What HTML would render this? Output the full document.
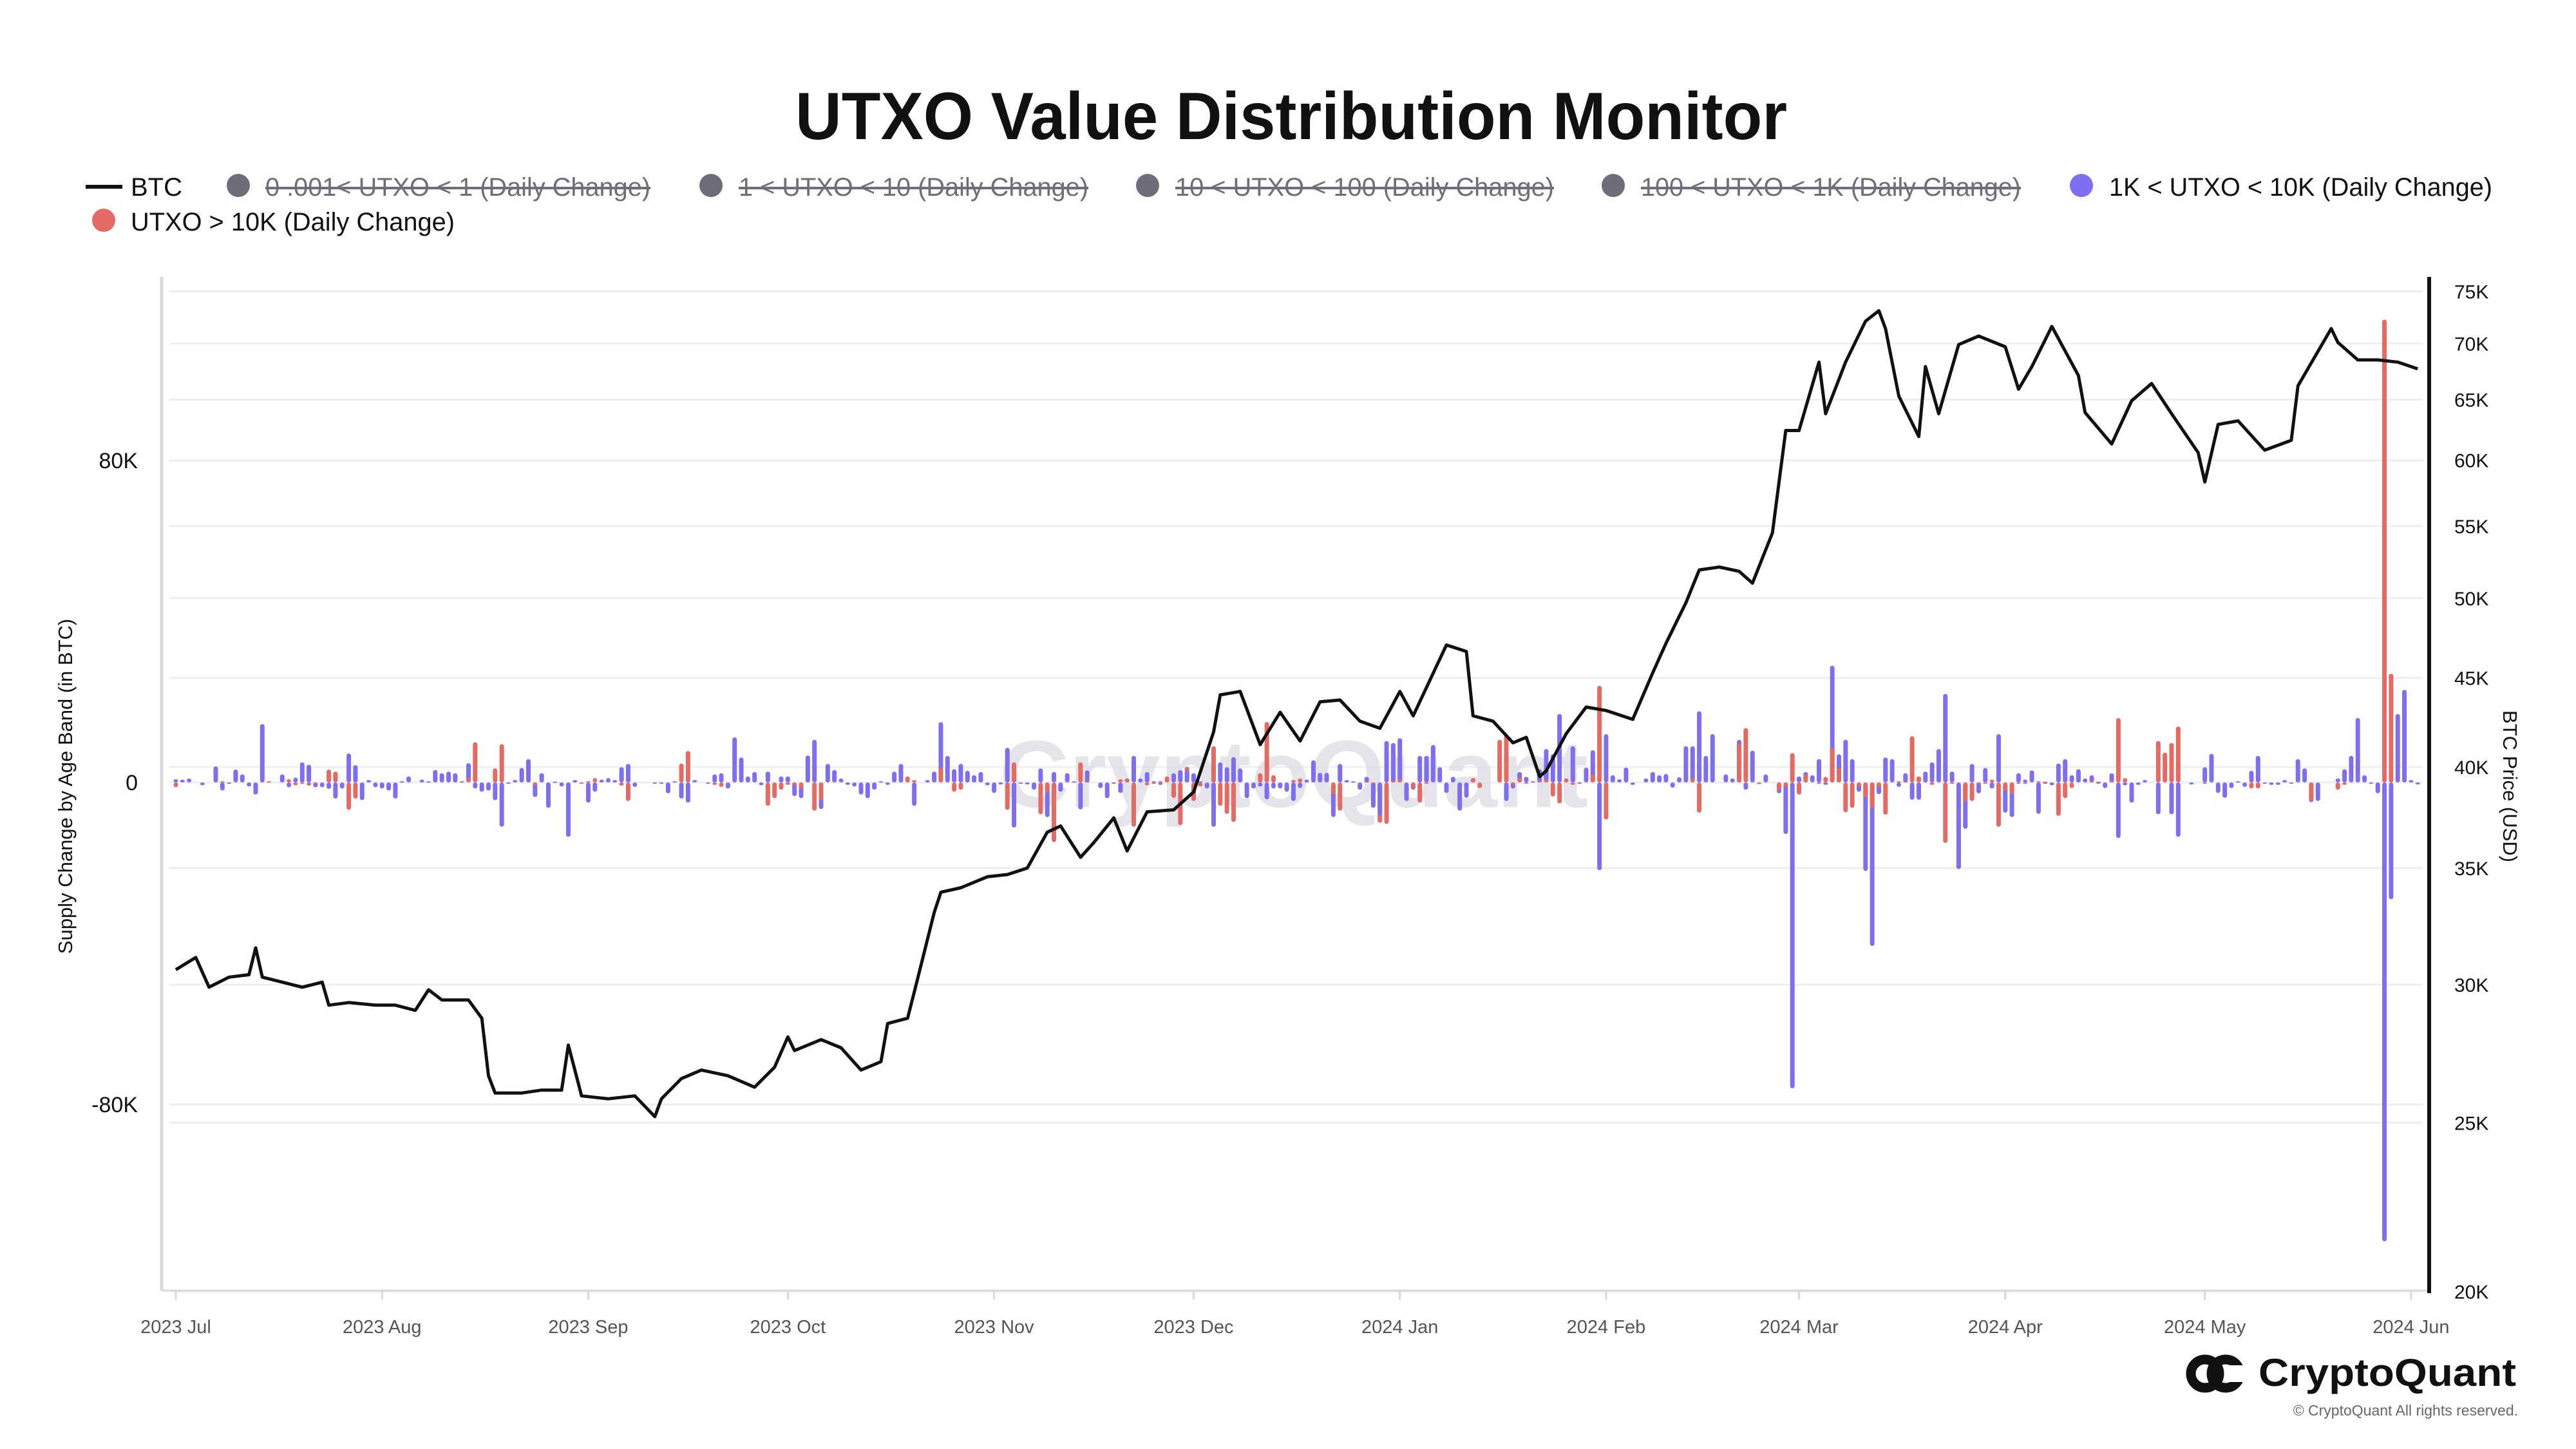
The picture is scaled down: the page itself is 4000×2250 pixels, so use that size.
<!DOCTYPE html>
<html><head><meta charset="utf-8"><style>
html,body{margin:0;padding:0;background:#fff;}
svg{display:block;font-family:"Liberation Sans",Arial,sans-serif;}
</style></head><body>
<svg id="chart" width="4000" height="2250" viewBox="0 0 4000 2250" xmlns="http://www.w3.org/2000/svg">
<rect width="4000" height="2250" fill="#fff"/>
<text x="2005" y="216" font-size="104" font-weight="bold" text-anchor="middle" fill="#111" textLength="1540" lengthAdjust="spacingAndGlyphs">UTXO Value Distribution Monitor</text>
<g font-size="40">
 <g><rect x="133" y="287" width="57" height="6" fill="#111"/><text x="203" y="304" fill="#111" textLength="80" lengthAdjust="spacingAndGlyphs">BTC</text></g>
 <g><circle cx="370" cy="288" r="18" fill="#6e6d7a"/><text x="412" y="304" fill="#6e6d7a" textLength="598" lengthAdjust="spacingAndGlyphs">0 .001&lt; UTXO &lt; 1 (Daily Change)</text><rect x="412" y="290" width="598" height="4" fill="#6e6d7a"/></g>
 <g><circle cx="1104" cy="288" r="18" fill="#6e6d7a"/><text x="1147" y="304" fill="#6e6d7a" textLength="543" lengthAdjust="spacingAndGlyphs">1 &lt; UTXO &lt; 10 (Daily Change)</text><rect x="1147" y="290" width="543" height="4" fill="#6e6d7a"/></g>
 <g><circle cx="1782" cy="288" r="18" fill="#6e6d7a"/><text x="1825" y="304" fill="#6e6d7a" textLength="588" lengthAdjust="spacingAndGlyphs">10 &lt; UTXO &lt; 100 (Daily Change)</text><rect x="1825" y="290" width="588" height="4" fill="#6e6d7a"/></g>
 <g><circle cx="2505" cy="288" r="18" fill="#6e6d7a"/><text x="2548" y="304" fill="#6e6d7a" textLength="590" lengthAdjust="spacingAndGlyphs">100 &lt; UTXO &lt; 1K (Daily Change)</text><rect x="2548" y="290" width="590" height="4" fill="#6e6d7a"/></g>
 <g><circle cx="3232" cy="288" r="18" fill="#7e6ff0"/><text x="3275" y="304" fill="#111" textLength="595" lengthAdjust="spacingAndGlyphs">1K &lt; UTXO &lt; 10K (Daily Change)</text></g>
 <g><circle cx="161" cy="342" r="18" fill="#e46a64"/><text x="203" y="358" fill="#111" textLength="503" lengthAdjust="spacingAndGlyphs">UTXO &gt; 10K (Daily Change)</text></g>
</g>
<g id="grid"></g>
<text x="1552" y="1253" font-size="148" font-weight="bold" fill="#dcdce4" opacity="0.75" textLength="914" lengthAdjust="spacingAndGlyphs">CryptoQuant</text>
<g id="bars"></g>
<g id="line"></g>
<g id="axes"></g>
<text transform="translate(112,1221) rotate(-90)" font-size="31" text-anchor="middle" fill="#111">Supply Change by Age Band (in BTC)</text>
<text transform="translate(3887,1221) rotate(90)" font-size="31" text-anchor="middle" fill="#111">BTC Price (USD)</text>
<g>
 <circle cx="3424" cy="2133" r="22" fill="none" stroke="#111" stroke-width="15"/>
 <circle cx="3456" cy="2133" r="22" fill="none" stroke="#111" stroke-width="15"/>
 <rect x="3460" y="2120" width="28" height="26" fill="#fff"/>
 <text x="3507" y="2152" font-size="60" font-weight="bold" fill="#111" textLength="400" lengthAdjust="spacingAndGlyphs">CryptoQuant</text>
</g>
<text x="3910" y="2198" font-size="23" text-anchor="end" fill="#666">© CryptoQuant All rights reserved.</text>
</svg>
<script>
const barDays=[0,1,2,4,6,7,8,9,10,11,12,13,14,16,17,18,19,20,21,22,23,24,25,26,27,28,29,30,31,32,33,34,35,37,38,39,40,41,42,43,44,45,46,47,48,49,50,51,52,53,54,55,56,57,58,59,60,61,62,63,64,65,66,67,68,69,72,73,74,75,76,77,78,80,81,82,83,84,
85,86,87,88,89,90,91,92,93,94,95,96,97,98,99,100,101,102,103,104,105,106,107,108,109,110,111,113,114,115,116,117,118,119,120,121,122,123,124,125,126,127,128,129,130,131,132,133,134,135,136,137,139,140,141,142,143,144,145,146,147,148,149,150,151,152,153,154,155,156,157,158,159,160,161,162,163,164,165,166,167,168,169,170,171,
172,173,174,175,176,177,178,179,180,181,182,183,184,185,186,187,188,189,190,191,192,193,194,195,196,199,200,201,202,203,204,205,206,207,208,209,210,211,212,213,214,215,216,217,218,219,221,222,223,224,225,226,227,228,229,230,231,233,234,235,236,237,238,239,
241,242,243,244,245,246,247,248,249,250,251,252,253,254,255,256,257,258,259,260,261,262,263,264,265,266,267,268,269,270,271,272,273,274,275,276,277,278,279,280,281,282,283,284,285,286,287,288,289,290,291,292,293,294,295,296,298,299,300,301,303,305,306,307,308,309,310,311,312,313,314,315,316,317,318,319,320,321,322,325,326,327,328,329,330,331,332,333,334,335,336,337];
const blueK=[0.8,0.7,1,-0.7,4,-2,-0.3,3.2,2,-1,-3,14.5,0,2,-1.2,1.2,5,4.4,-1.2,-1.2,-1.6,-4,-1.5,7.2,4.3,-4.4,0.6,-1.2,-1.5,-2,-4,0.3,1.5,0.7,0.3,3.1,2.3,2.7,2.3,0.3,4.8,-1.5,-2.3,-2,-4.4,-11,-0.3,0.6,3.6,5.8,-3.6,2.3,-6.3,0.2,-1,-13.5,0.6,0,-5,-2.3,0.7,1.1,0.6,3.8,4.6,-1.1,-0.3,-0.3,-2.7,0.3,-4,-5,0.6,-0.3,2,2.3,-1.5,11.2,
6.2,1.5,2.6,-0.7,2.7,0,1.5,1.5,-3.4,-3.9,6.7,10.6,-6.6,4.6,3.1,1,-0.6,-1,-3,-3.9,-1.8,0.3,-0.6,2.7,4.6,0,-5.8,0.6,2.7,15,6.6,3.3,4.6,2.9,1.8,2.6,-0.7,-2.6,-0.5,8.6,-11.2,-0.3,-0.5,-1.8,3.5,-8.6,2.6,-2.3,2.3,0.3,-6.7,3,-1.4,-3.9,-0.3,-2.6,1,6.6,1,2.6,-0.3,-0.6,0,2.3,3.1,3,2.3,0.3,-1.5,-11,5,3.8,6.3,3.5,-3.9,-1.5,-1,-4.2,-1.5,-1.5,-2.3,-4.6,-1.4,0.7,5.5,
2.4,2.4,-8.6,4.6,0.6,0.3,-1.8,1.4,-6.3,-8.2,10.3,9.8,11,-4.6,-1.8,6.6,6.6,9.3,3.8,-2.6,1.4,-7,-3.8,1.1,0,0,-4.6,-1.5,2.6,1.4,0.3,3.3,8.3,7,17,1,9,-0.3,3.7,8,-21.8,12,1.8,0.8,3.7,-0.6,1,2.6,1.8,2.1,-1.3,1.3,9,9,17.7,6.6,12,2,1,10.6,-1.8,7.9,0,2,
-2.7,-12.8,-76,1.5,2.6,1.8,5.8,-0.6,29,7,10.6,5.8,-2.3,-22,-40.6,-2.9,6.2,5.8,-1.1,2.3,-4.3,-4.3,2.7,5,8.3,22,2.7,-21.5,-11.5,4.6,-2.7,3.6,-1.5,12,-7.5,-8.6,2.3,0.7,3,-7.8,-0.3,-0.7,4.7,5.8,1.8,3.3,1,1.8,0.2,-1.4,2.3,-13.8,-0.7,-5,-0.6,0.6,-7.9,0,-7.9,-13.5,-0.5,3.8,7.1,-2.6,-3.8,-1.4,0.3,-1.1,2.9,6.6,-0.3,-0.6,-0.6,0.6,-0.3,5.8,3.5,-4.9,-4.6,1,3.3,6.6,16,1.8,-0.3,-2.7,-114,-29,17,23,0.6,-0.5];
const redK=[-1.2,0,0,0,0,0.3,0,0,0,0,0,0,0.3,0,0.8,-0.7,-0.3,-0.8,-0.3,0,3.2,2.7,0,-6.8,-4,0,0,0,0,0,0,0,0,0,0,0,0,0,0,0,1.2,10,0,0,3.5,9.5,0,0,0,0,-0.8,0,0,0,0,0,0,-0.3,0.3,1.1,0,0,0,-0.8,-4.6,0,0,0,0,0,4.7,7.8,0,0,-0.6,-1.1,0,0,
0,0,0,0,-5.8,-3.9,-1.8,-0.6,-0.7,-1.6,0,-7,-4.4,0,0,0,0,0,0,0,0,0,0,0,0,1.5,0.6,0,0,3.6,0,-2.3,-1.8,0,0,0,0,0,0,-6.8,5,0,0,0,-7.9,-2.5,-14.8,0,0,0,5,0.3,0,0,0,0.8,1,-11,0,-0.7,0.3,0.3,1.5,-3.8,-10.6,3.9,-4.6,-1,0,9,-5.8,-7.8,-9.8,0,0,0,2.3,15,1.8,0,0,0.6,1,0,0,
0,0,-3,-7,0,0,0,0.3,-0.3,-10,-10.3,0.4,0.8,0,-1.4,-5,-0.3,0,0,0,0,0,0,1.1,-1.4,10.6,11.8,-0.7,1.2,-0.3,0,0.4,0.8,-3.5,-5.2,1,-0.6,0,0,2,24,-9.2,0,0,0,0,0,0,0,0,0,0,0,1.1,-7.5,0,0,0,0,9.6,13.5,0,-0.4,0,
-2,-1.2,7.3,-3,2,0,-0.3,1.4,8.6,3.6,-7.4,-6.3,-1.1,-3.7,-6.4,-1.2,-8,0,0.3,0.3,11.5,1.5,0,-0.6,0,-15,-0.3,0,-4.8,-4.6,-0.4,-0.3,0.7,-11,-2,-2.9,-0.3,-0.3,0,0.3,0.2,0,-8.3,-3.9,-1.4,0,0,0.4,-0.2,0,0.4,16,1.1,0,0,0,10.3,7.4,9.8,13.9,0,-0.3,0,0,0,0,0,0,-1.5,-1.5,0,0,0,0,0,0,0,-4.6,0,-1.8,-0.6,0,0,0,0,0,115,27,0,0,0,0];
const priceDays=[0,3,5,8,11,12,13,16,19,22,23,26,30,33,36,38,40,44,46,47,48,52,55,58,59,61,65,69,72,73,76,79,83,87,90,92,93,97,100,103,106,107,110,111,114,115,118,122,125,128,131,133,136,138,141,143,146,150,153,156,157,160,163,166,169,172,175,178,181,184,186,191,194,195,198,201,203,205,206,209,212,215,219,222,224,227,229,232,235,237,240,242,244,247,248,251,254,256,257,259,262,263,265,268,271,275,277,279,282,286,287,291,294,297,300,304,305,307,310,314,318,319,324,325,328,331,334,337];
const priceK=[30.6,31.1,29.9,30.3,30.4,31.5,30.3,30.1,29.9,30.1,29.2,29.3,29.2,29.2,29.0,29.8,29.4,29.4,28.7,26.6,26.0,26.0,26.1,26.1,27.7,25.9,25.8,25.9,25.2,25.8,26.5,26.8,26.6,26.2,26.9,28.0,27.5,27.9,27.6,26.8,27.1,28.5,28.7,29.7,33.0,33.9,34.1,34.6,34.7,35.0,36.7,37.0,35.5,36.2,37.4,35.8,37.7,37.8,38.7,41.9,44.0,44.2,41.2,43.0,41.4,43.6,43.7,42.5,42.1,44.2,42.8,47.0,46.6,42.8,42.5,41.3,41.6,39.5,39.8,41.8,43.3,43.1,42.6,45.3,47.1,49.7,51.9,52.1,51.8,51.0,54.5,62.4,62.4,68.3,63.8,68.3,72.1,73.1,71.4,65.3,61.9,67.9,63.8,69.9,70.7,69.7,65.9,67.9,71.6,67.1,63.9,61.3,64.9,66.4,63.8,60.6,58.3,62.9,63.2,60.8,61.6,66.2,71.4,70.1,68.5,68.5,68.3,67.7];
const leftTicks=[80,0,-80];
const leftTickLabels=["80K","0","-80K"];
const rightTicks=[75,70,65,60,55,50,45,40,35,30,25,20];
const monthDays=[0,31,62,92,123,153,184,215,244,275,305,336];
const monthLabels=["2023 Jul","2023 Aug","2023 Sep","2023 Oct","2023 Nov","2023 Dec","2024 Jan","2024 Feb","2024 Mar","2024 Apr","2024 May","2024 Jun"];

const NS="http://www.w3.org/2000/svg";
const X0=273,PXD=10.33,Y0=1215,PXK=6.25,Y40=1191,PLN=1175;
function xs(d){return X0+d*PXD;}
function yl(v){return Y0-v*PXK;}
function yr(p){return Y40-PLN*Math.log(p/40);}
function mk(tag,attrs,parent){const e=document.createElementNS(NS,tag);for(const k in attrs)e.setAttribute(k,attrs[k]);parent.appendChild(e);return e;}
const grid=document.getElementById('grid'),bars=document.getElementById('bars'),line=document.getElementById('line'),axes=document.getElementById('axes');
rightTicks.forEach(p=>{const g=mk('line',{x1:263,x2:3762,y1:yr(p),y2:yr(p),stroke:'#efeff2','stroke-width':3},grid);

});
leftTicks.forEach(v=>{const g=mk('line',{x1:263,x2:3762,y1:yl(v),y2:yl(v),stroke:'#eeeef1','stroke-width':3},grid);

});
barDays.forEach((d,i)=>{
  const b=blueK[i],r=redK[i];
  const items=[['b',b,'#7e6ff0'],['r',r,'#e46a64']].filter(t=>t[1]!==0).sort((a,c)=>Math.abs(c[1])-Math.abs(a[1]));
  items.forEach(t=>{
    const v=t[1],y1=yl(0),y2=yl(v);
    const el=mk('rect',{x:xs(d)-3.5,y:Math.min(y1,y2),width:7,height:Math.max(2,Math.abs(y2-y1)),rx:3.5,fill:t[2]},bars);
    
    
  });
});
const pts=priceDays.map((d,i)=>xs(d).toFixed(1)+','+yr(priceK[i]).toFixed(1)).join(' ');
const pl=mk('polyline',{points:pts,fill:'none',stroke:'#111','stroke-width':5,'stroke-linejoin':'round'},line);


const la=mk('line',{x1:251,x2:251,y1:430,y2:2004,stroke:'#d8d8de','stroke-width':5},axes);


const ba=mk('line',{x1:251,x2:3772,y1:2004,y2:2004,stroke:'#d8d8de','stroke-width':3},axes);


const ra=mk('line',{x1:3772,x2:3772,y1:430,y2:2008,stroke:'#111','stroke-width':6},axes);


leftTicks.forEach((v,i)=>{const t=mk('text',{x:214,y:yl(v)+12,'font-size':34,'text-anchor':'end',fill:'#111'},axes);t.textContent=leftTickLabels[i];

});
rightTicks.forEach(p=>{const t=mk('text',{x:3811,y:yr(p)+11,'font-size':30,fill:'#111'},axes);t.textContent=p+'K';

});
monthDays.forEach((d,i)=>{
  const tk=mk('line',{x1:xs(d),x2:xs(d),y1:2004,y2:2018,stroke:'#d8d8de','stroke-width':3},axes);
  
  
  const t=mk('text',{x:xs(d),y:2070,'font-size':29,'text-anchor':'middle',fill:'#555'},axes);t.textContent=monthLabels[i];
  
  
});
</script>
</body></html>
